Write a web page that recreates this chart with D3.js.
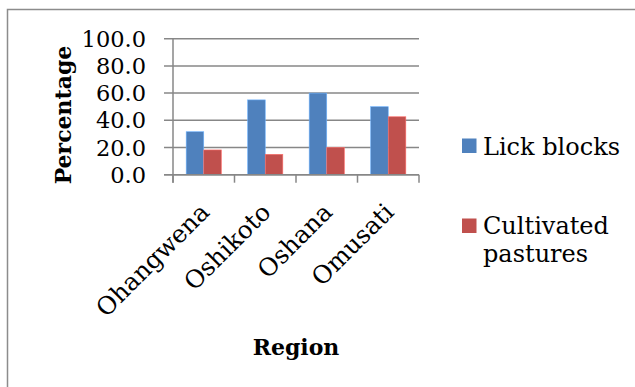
<!DOCTYPE html>
<html>
<head>
<meta charset="utf-8">
<script src="https://cdn.jsdelivr.net/npm/d3@7"></script>
<style>
  html, body { margin: 0; padding: 0; background: #fff; }
  svg { display: block; }
  text { font-family: "DejaVu Serif", "Liberation Serif", serif; fill: #000; }
</style>
</head>
<body>
<svg id="chart" width="635" height="387"></svg>
<script>
// Regions surveyed and the share of farmers using each feed supplement
const regions = ["Ohangwena", "Oshikoto", "Oshana", "Omusati"];
const lickBlocks = [31.6, 55.0, 60.0, 50.0];
const cultivatedPastures = [18.2, 15.0, 20.0, 42.6];
const seriesNames = ["Lick blocks", "Cultivated pastures"];
const seriesColors = ["#4F81BD", "#C0504D"];
const yTicks = [0, 20, 40, 60, 80, 100];

const svg = d3.select("#chart");
const W = 635, H = 387;

// Chart frame
svg.append("rect")
  .attr("x", 7.5).attr("y", 9.5)
  .attr("width", W + 10).attr("height", H + 10)
  .attr("fill", "none").attr("stroke", "#8c8c8c").attr("stroke-width", 1.5);

const plot = { left: 173, right: 419, top: 38.7, bottom: 174.7 };

const x0 = d3.scaleBand().domain(regions).range([plot.left, plot.right]).paddingInner(0).paddingOuter(0);
const x1 = d3.scaleBand().domain(seriesNames).range([0, x0.bandwidth()]).paddingInner(0).paddingOuter(0.75);
const y = d3.scaleLinear().domain([0, 100]).range([plot.bottom, plot.top]);

const gridColor = "#878787";

// Horizontal gridlines with outward tick marks
svg.append("g").selectAll("line").data(yTicks).join("line")
  .attr("x1", plot.left - 9).attr("x2", plot.right)
  .attr("y1", d => y(d)).attr("y2", d => y(d))
  .attr("stroke", gridColor).attr("stroke-width", 1.5);

// Y tick labels
svg.append("g").selectAll("text").data(yTicks).join("text")
  .attr("x", 146).attr("y", d => y(d) + 8)
  .attr("text-anchor", "end")
  .attr("font-size", 22.5)
  .text(d => d.toFixed(1));

// Bars
const series = [lickBlocks, cultivatedPastures];
const groups = svg.append("g").selectAll("g").data(regions).join("g")
  .attr("transform", d => `translate(${x0(d)},0)`);
groups.selectAll("rect")
  .data((r, i) => seriesNames.map((s, j) => ({ s, v: series[j][i], c: seriesColors[j] })))
  .join("rect")
  .attr("x", d => x1(d.s))
  .attr("width", x1.bandwidth())
  .attr("y", d => y(d.v))
  .attr("height", d => y(0) - y(d.v))
  .attr("fill", d => d.c)
  .attr("stroke", d => d3.color(d.c).brighter(0.9))
  .attr("stroke-width", 0.6);

// Axes lines
svg.append("line")
  .attr("x1", plot.left).attr("x2", plot.left)
  .attr("y1", plot.top).attr("y2", plot.bottom + 8)
  .attr("stroke", gridColor).attr("stroke-width", 1.5);
svg.append("line")
  .attr("x1", plot.left - 9).attr("x2", plot.right)
  .attr("y1", plot.bottom).attr("y2", plot.bottom)
  .attr("stroke", gridColor).attr("stroke-width", 1.5);

// Category boundary ticks
const bounds = regions.map(r => x0(r)).concat([plot.right]);
svg.append("g").selectAll("line").data(bounds).join("line")
  .attr("x1", d => d).attr("x2", d => d)
  .attr("y1", plot.bottom).attr("y2", plot.bottom + 8)
  .attr("stroke", gridColor).attr("stroke-width", 1.5);

// Rotated category labels
svg.append("g").selectAll("text").data(regions).join("text")
  .attr("transform", d => `translate(${x0(d) + x0.bandwidth() / 2 + 7},${plot.bottom + 39}) rotate(-45)`)
  .attr("text-anchor", "end")
  .attr("font-size", 24.5)
  .text(d => d);

// Axis titles
svg.append("text")
  .attr("transform", `translate(71,115) rotate(-90)`)
  .attr("text-anchor", "middle")
  .attr("font-size", 22).attr("font-weight", "bold")
  .text("Percentage");
svg.append("text")
  .attr("x", 296).attr("y", 355)
  .attr("text-anchor", "middle")
  .attr("font-size", 22).attr("font-weight", "bold")
  .text("Region");

// Legend
const legend = svg.append("g");
legend.append("rect").attr("x", 462).attr("y", 138.5).attr("width", 14.5).attr("height", 14.5).attr("fill", seriesColors[0]);
legend.append("text").attr("x", 483).attr("y", 155).attr("font-size", 24).text(seriesNames[0]);
legend.append("rect").attr("x", 462).attr("y", 218.5).attr("width", 14.5).attr("height", 14.5).attr("fill", seriesColors[1]);
const t2 = legend.append("text").attr("x", 483).attr("y", 234).attr("font-size", 24);
t2.append("tspan").attr("x", 483).text("Cultivated");
t2.append("tspan").attr("x", 483).attr("dy", 28).text("pastures");
</script>
</body>
</html>
